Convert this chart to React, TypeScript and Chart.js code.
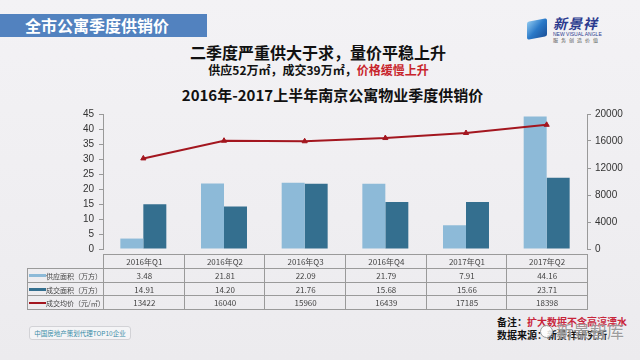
import React, { useEffect, useRef } from "react";
import { Chart, registerables } from "chart.js";

Chart.register(...registerables);

const categories = ["2016年Q1", "2016年Q2", "2016年Q3", "2016年Q4", "2017年Q1", "2017年Q2"];
const supplyArea = [3.48, 21.81, 22.09, 21.79, 7.91, 44.16];
const dealArea = [14.91, 14.2, 21.76, 15.68, 15.66, 23.71];
const avgPrice = [13422, 16040, 15960, 16439, 17185, 18398];
const supplyLabel = "供应面积（万方）";
const dealLabel = "成交面积（万方）";
const priceLabel = "成交均价（元/㎡）";
const leftMax = 45;
const leftStep = 5;
const rightMax = 20000;
const rightStep = 4000;

const LIGHT = "#8dbad8";
const DARK = "#346f8f";
const RED = "#a3161f";
const CJK = '"Noto Sans CJK SC", "Noto Sans", sans-serif';

const PLOT_L = 103;
const PLOT_R = 587;

export default function App() {
  const ref = useRef<HTMLCanvasElement | null>(null);

  useEffect(() => {
    if (!ref.current) return;
    const chart = new Chart(ref.current, {
      type: "bar",
      data: {
        labels: categories,
        datasets: [
          {
            type: "line",
            label: priceLabel,
            data: avgPrice,
            yAxisID: "y1",
            borderColor: RED,
            backgroundColor: RED,
            borderWidth: 2,
            pointStyle: "triangle",
            pointRadius: 3,
            pointBorderWidth: 1,
            tension: 0,
            order: 0,
          } as any,
          {
            label: supplyLabel,
            data: supplyArea,
            yAxisID: "y",
            backgroundColor: LIGHT,
            categoryPercentage: 0.57,
            barPercentage: 1,
            order: 1,
          },
          {
            label: dealLabel,
            data: dealArea,
            yAxisID: "y",
            backgroundColor: DARK,
            categoryPercentage: 0.57,
            barPercentage: 1,
            order: 1,
          },
        ],
      },
      options: {
        animation: false,
        responsive: false,
        maintainAspectRatio: false,
        layout: { padding: { top: 14, bottom: 6, left: 0, right: 0 } },
        plugins: { legend: { display: false }, tooltip: { enabled: false } },
        scales: {
          x: { display: false, offset: true, grid: { display: false } },
          y: {
            position: "left",
            min: 0,
            max: leftMax,
            ticks: {
              stepSize: leftStep,
              color: "#333",
              padding: 5,
              font: { size: 10, family: '"Liberation Sans", sans-serif' },
            },
            grid: { drawOnChartArea: false, tickLength: 4, color: "#999" },
            border: { color: "#999" },
            afterFit: (s: any) => {
              s.width = PLOT_L;
            },
          },
          y1: {
            position: "right",
            min: 0,
            max: rightMax,
            ticks: {
              stepSize: rightStep,
              color: "#333",
              padding: 4,
              font: { size: 10, family: '"Liberation Sans", sans-serif' },
              callback: (v: any) => String(v),
            },
            grid: { drawOnChartArea: false, tickLength: 4, color: "#999" },
            border: { color: "#999" },
            afterFit: (s: any) => {
              s.width = 640 - PLOT_R;
            },
          },
        },
      },
    });
    return () => chart.destroy();
  }, []);

  const colW = (PLOT_R - PLOT_L) / categories.length;
  const rowTops = [268, 281.7, 295.3];
  const rowH = 13.7;
  const rows = [
    { label: supplyLabel, values: supplyArea.map((v) => v.toFixed(2)), swatch: LIGHT, sw: 3 },
    { label: dealLabel, values: dealArea.map((v) => v.toFixed(2)), swatch: DARK, sw: 3 },
    { label: priceLabel, values: avgPrice.map((v) => String(v)), swatch: RED, sw: 2 },
  ];
  const border = "1px solid #9a9a9a";
  const cellText: React.CSSProperties = {
    position: "absolute",
    fontFamily: CJK,
    fontSize: 8,
    color: "#444",
    display: "flex",
    alignItems: "center",
    justifyContent: "center",
    boxSizing: "border-box",
    whiteSpace: "nowrap",
  };

  return (
    <div
      style={{
        position: "absolute",
        left: 0,
        top: 0,
        width: 640,
        height: 360,
        overflow: "hidden",
        background: "linear-gradient(180deg, #f3f2f5 0%, #efeef1 60%, #ecebee 100%)",
        fontFamily: CJK,
      }}
    >
      {/* banner */}
      <div
        style={{
          position: "absolute",
          left: 0,
          top: 14,
          width: 207,
          height: 23,
          background: "#5282bf",
          color: "#fff",
          fontWeight: 700,
          fontSize: 16,
          lineHeight: "23px",
          paddingLeft: 25,
          boxSizing: "border-box",
        }}
      >
        全市公寓季度供销价
      </div>

      {/* logo */}
      <div
        style={{
          position: "absolute",
          left: 527,
          top: 20,
          width: 20,
          height: 18,
          background: "linear-gradient(135deg, #8fc9f0 0%, #2a79c8 50%, #1b4f97 100%)",
          transform: "skewY(-10deg)",
          borderRadius: 2,
        }}
      />
      <div
        style={{
          position: "absolute",
          left: 553,
          top: 15,
          fontSize: 14,
          fontWeight: 700,
          fontStyle: "italic",
          color: "#2b3a8f",
          lineHeight: "16px",
          letterSpacing: 1,
        }}
      >
        新景祥
      </div>
      <div
        style={{
          position: "absolute",
          left: 553,
          top: 31,
          fontSize: 5,
          color: "#2b3a8f",
          fontFamily: '"Liberation Sans", sans-serif',
          lineHeight: "6px",
        }}
      >
        NEW VISUAL ANGLE
      </div>
      <div
        style={{
          position: "absolute",
          left: 553,
          top: 37,
          fontSize: 5,
          color: "#555",
          lineHeight: "6px",
          letterSpacing: 3,
        }}
      >
        服务创造价值
      </div>

      {/* titles */}
      <div
        style={{
          position: "absolute",
          left: 0,
          width: 636,
          top: 42,
          textAlign: "center",
          fontSize: 16,
          fontWeight: 700,
          color: "#111",
          lineHeight: "20px",
        }}
      >
        二季度严重供大于求，量价平稳上升
      </div>
      <div
        style={{
          position: "absolute",
          left: 0,
          width: 637,
          top: 62,
          textAlign: "center",
          fontSize: 12,
          fontWeight: 700,
          color: "#111",
          lineHeight: "16px",
        }}
      >
        供应52万㎡，成交39万㎡，<span style={{ color: "#c8242c" }}>价格缓慢上升</span>
      </div>
      <div
        style={{
          position: "absolute",
          left: 0,
          width: 665,
          top: 86,
          textAlign: "center",
          fontSize: 15,
          fontWeight: 700,
          color: "#111",
          lineHeight: "18px",
        }}
      >
        2016年-2017上半年南京公寓物业季度供销价
      </div>

      {/* chart */}
      <canvas
        ref={ref}
        width={640}
        height={160}
        style={{ position: "absolute", left: 0, top: 100, width: 640, height: 160 }}
      />

      {/* table header row */}
      {categories.map((c, i) => (
        <div
          key={"h" + i}
          style={{
            ...cellText,
            left: PLOT_L + i * colW,
            top: 254,
            width: colW + 1,
            height: 14.7,
            borderTop: border,
            borderLeft: border,
            borderRight: i === categories.length - 1 ? border : undefined,
          }}
        >
          {c}
        </div>
      ))}

      {/* table body rows */}
      {rows.map((r, ri) => (
        <React.Fragment key={"r" + ri}>
          <div
            style={{
              ...cellText,
              left: 27,
              top: rowTops[ri],
              width: PLOT_L - 27 + 1,
              height: rowH + 1,
              borderTop: border,
              borderLeft: border,
              borderBottom: ri === rows.length - 1 ? border : undefined,
              justifyContent: "flex-start",
              paddingLeft: 1,
              fontSize: 7,
            }}
          >
            <span
              style={{
                display: "inline-block",
                width: 17,
                height: r.sw,
                background: r.swatch,
                flex: "none",
              }}
            />
            <span>{r.label}</span>
          </div>
          {r.values.map((v, i) => (
            <div
              key={"c" + ri + "-" + i}
              style={{
                ...cellText,
                left: PLOT_L + i * colW,
                top: rowTops[ri],
                width: colW + 1,
                height: rowH + 1,
                borderTop: border,
                borderLeft: border,
                borderRight: i === r.values.length - 1 ? border : undefined,
                borderBottom: ri === rows.length - 1 ? border : undefined,
              }}
            >
              {v}
            </div>
          ))}
        </React.Fragment>
      ))}

      {/* bottom-left badge */}
      <div
        style={{
          position: "absolute",
          left: 29,
          top: 326,
          width: 102,
          height: 14,
          border: "1px solid #d2d2d6",
          borderRadius: 3,
          boxSizing: "border-box",
          fontSize: 6.5,
          color: "#3b8ea8",
          display: "flex",
          alignItems: "center",
          justifyContent: "center",
          background: "#f4f4f6",
          whiteSpace: "nowrap",
        }}
      >
        中国房地产策划代理TOP10企业
      </div>

      {/* notes */}
      <div
        style={{
          position: "absolute",
          left: 497,
          top: 315,
          fontSize: 10,
          fontWeight: 700,
          color: "#111",
          lineHeight: "13px",
          whiteSpace: "nowrap",
        }}
      >
        备注：<span style={{ color: "#c8243a" }}>扩大数据不含高淳溧水</span>
        <br />
        数据来源：新景祥研究所
      </div>
      <div
        style={{
          position: "absolute",
          left: 540,
          top: 325,
          width: 13,
          height: 13,
          borderRadius: "50%",
          border: "1.5px solid #9a9a9a",
          background: "rgba(255,255,255,0.85)",
          boxSizing: "border-box",
        }}
      />
      <div
        style={{
          position: "absolute",
          left: 556,
          top: 320,
          fontSize: 17,
          color: "rgba(140,140,140,0.85)",
          lineHeight: "22px",
          whiteSpace: "nowrap",
          textShadow: "0 0 2px #fff",
        }}
      >
        新景智库
      </div>
    </div>
  );
}
